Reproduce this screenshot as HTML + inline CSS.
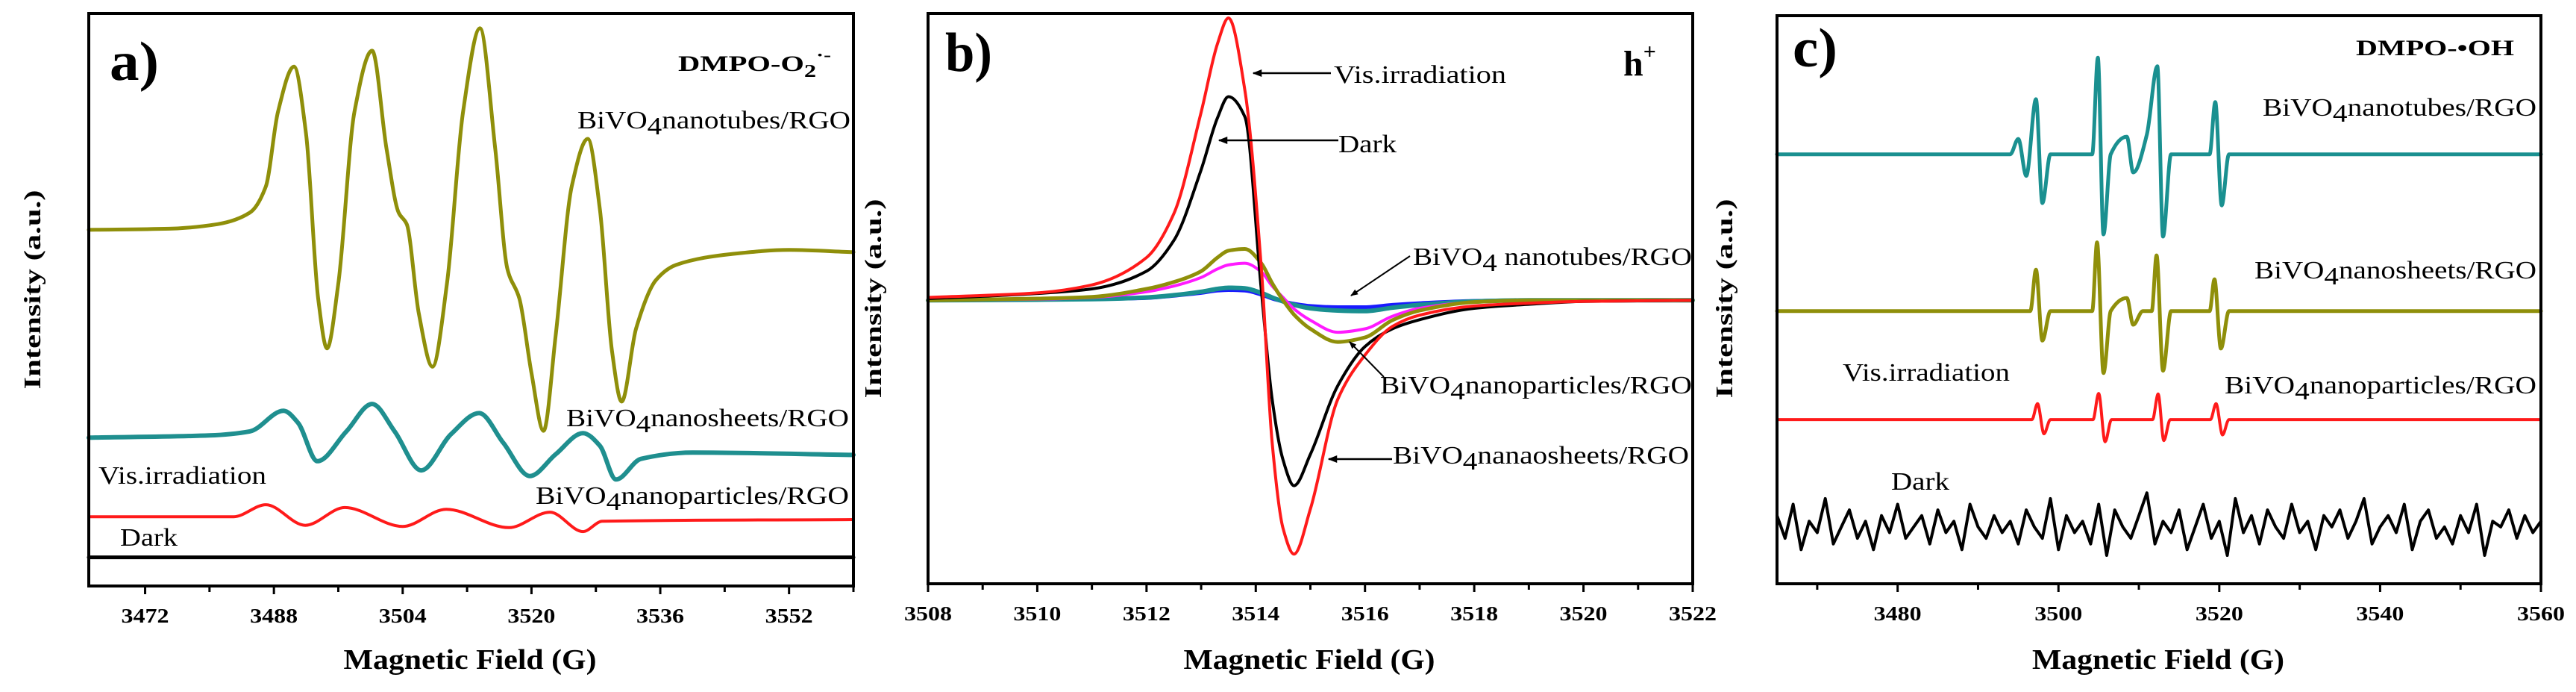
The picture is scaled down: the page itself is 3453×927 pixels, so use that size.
<!DOCTYPE html>
<html><head><meta charset="utf-8"><style>
html,body{margin:0;padding:0;background:#fff;}
svg{display:block;}
text{font-family:"Liberation Serif",serif;}
.b{font-weight:bold;}
</style></head>
<body>
<svg id="fig" width="3453" height="927" viewBox="0 0 3453 927" xmlns="http://www.w3.org/2000/svg">
<defs>
<marker id="ah" viewBox="0 0 10 10" refX="9" refY="5" markerWidth="5" markerHeight="5" orient="auto"><path d="M0,1 L10,5 L0,9 z" fill="#000"/></marker>
</defs>
<g id="pa"></g>
<g id="pb"></g>
<g id="pc"></g>

<!-- panel a text -->
<text class="b" x="147" y="107" font-size="74" textLength="66" lengthAdjust="spacingAndGlyphs">a)</text>
<text class="b" x="909" y="95" font-size="30" textLength="205" lengthAdjust="spacingAndGlyphs">DMPO-O<tspan dy="8" font-size="24">2</tspan><tspan dy="-22" font-size="22">·-</tspan></text>
<text x="774" y="172" font-size="34" textLength="366" lengthAdjust="spacingAndGlyphs">BiVO<tspan dy="8">4</tspan><tspan dy="-8">nanotubes/RGO</tspan></text>
<text x="759" y="571" font-size="34" textLength="379" lengthAdjust="spacingAndGlyphs">BiVO<tspan dy="8">4</tspan><tspan dy="-8">nanosheets/RGO</tspan></text>
<text x="132" y="648" font-size="34" textLength="225" lengthAdjust="spacingAndGlyphs">Vis.irradiation</text>
<text x="718" y="675" font-size="34" textLength="420" lengthAdjust="spacingAndGlyphs">BiVO<tspan dy="8">4</tspan><tspan dy="-8">nanoparticles/RGO</tspan></text>
<text x="161" y="731" font-size="34" textLength="77" lengthAdjust="spacingAndGlyphs">Dark</text>
<text class="b" x="630" y="896" font-size="38" text-anchor="middle" textLength="339" lengthAdjust="spacingAndGlyphs">Magnetic Field (G)</text>
<text class="b" transform="translate(54,388) rotate(-90)" font-size="32" text-anchor="middle" textLength="267" lengthAdjust="spacingAndGlyphs">Intensity (a.u.)</text>

<!-- panel b text -->
<text class="b" x="1267" y="95" font-size="74" textLength="63" lengthAdjust="spacingAndGlyphs">b)</text>
<text class="b" x="2176" y="101" font-size="48">h<tspan dy="-22" font-size="30">+</tspan></text>
<text x="1788" y="111" font-size="34" textLength="231" lengthAdjust="spacingAndGlyphs">Vis.irradiation</text>
<line x1="1784" y1="98" x2="1680" y2="98" stroke="#000" stroke-width="2.5" marker-end="url(#ah)"/>
<text x="1794" y="204" font-size="34" textLength="78" lengthAdjust="spacingAndGlyphs">Dark</text>
<line x1="1794" y1="188" x2="1634" y2="188" stroke="#000" stroke-width="2.5" marker-end="url(#ah)"/>
<text x="1894" y="355" font-size="34" textLength="374" lengthAdjust="spacingAndGlyphs">BiVO<tspan dy="8">4</tspan><tspan dy="-8"> nanotubes/RGO</tspan></text>
<line x1="1890" y1="343" x2="1811" y2="396" stroke="#000" stroke-width="2" marker-end="url(#ah)"/>
<text x="1850" y="527" font-size="34" textLength="418" lengthAdjust="spacingAndGlyphs">BiVO<tspan dy="8">4</tspan><tspan dy="-8">nanoparticles/RGO</tspan></text>
<line x1="1855" y1="505" x2="1809" y2="458" stroke="#000" stroke-width="2" marker-end="url(#ah)"/>
<text x="1867" y="621" font-size="34" textLength="397" lengthAdjust="spacingAndGlyphs">BiVO<tspan dy="8">4</tspan><tspan dy="-8">nanaosheets/RGO</tspan></text>
<line x1="1866" y1="615" x2="1781" y2="615" stroke="#000" stroke-width="2.5" marker-end="url(#ah)"/>
<text class="b" x="1755" y="896" font-size="38" text-anchor="middle" textLength="337" lengthAdjust="spacingAndGlyphs">Magnetic Field (G)</text>
<text class="b" transform="translate(1181,400) rotate(-90)" font-size="32" text-anchor="middle" textLength="267" lengthAdjust="spacingAndGlyphs">Intensity (a.u.)</text>

<!-- panel c text -->
<text class="b" x="2403" y="89" font-size="74" textLength="60" lengthAdjust="spacingAndGlyphs">c)</text>
<text class="b" x="3158" y="74" font-size="30" textLength="212" lengthAdjust="spacingAndGlyphs">DMPO-•OH</text>
<text x="3033" y="155" font-size="34" textLength="367" lengthAdjust="spacingAndGlyphs">BiVO<tspan dy="8">4</tspan><tspan dy="-8">nanotubes/RGO</tspan></text>
<text x="3022" y="373" font-size="34" textLength="378" lengthAdjust="spacingAndGlyphs">BiVO<tspan dy="8">4</tspan><tspan dy="-8">nanosheets/RGO</tspan></text>
<text x="2470" y="510" font-size="34" textLength="224" lengthAdjust="spacingAndGlyphs">Vis.irradiation</text>
<text x="2982" y="527" font-size="34" textLength="418" lengthAdjust="spacingAndGlyphs">BiVO<tspan dy="8">4</tspan><tspan dy="-8">nanoparticles/RGO</tspan></text>
<text x="2535" y="656" font-size="34" textLength="78" lengthAdjust="spacingAndGlyphs">Dark</text>
<text class="b" x="2893" y="896" font-size="38" text-anchor="middle" textLength="338" lengthAdjust="spacingAndGlyphs">Magnetic Field (G)</text>
<text class="b" transform="translate(2322,400) rotate(-90)" font-size="32" text-anchor="middle" textLength="267" lengthAdjust="spacingAndGlyphs">Intensity (a.u.)</text>
</svg>

<script>
// ---------- Panel a data (DMPO-O2·-) ----------
const aTubesG = [3465,3475,3481,3485,3487,3488.5,3490.5,3492,3493.5,3494.6,3496,3498,3500.2,3502,3503.5,3504.5,3506,3507.7,3509.5,3511.5,3513.6,3515.5,3517,3518.5,3520,3521.5,3523,3525,3527,3528.5,3530,3531.2,3533,3535.5,3538,3545,3552,3560];
const aTubesI = [62.2,62.4,63.2,65.2,69.8,82.8,90.7,78.9,50.2,41.5,52.8,82.8,93.5,76.3,65.2,63.2,47.6,38.3,52.8,82.8,97.4,76.3,55.4,50.2,37.2,27.1,43.7,69.8,78.1,65.8,41.1,32.2,45.0,53.5,56.1,58.0,58.7,58.3];
const aSheetsG = [3465,3480,3485,3489.2,3491,3493.4,3497,3500.2,3503,3506.3,3510,3513.5,3516.5,3519.8,3523,3526.4,3528.5,3530.5,3533.6,3540,3560];
const aSheetsI = [25.9,26.3,27.0,30.6,28.5,21.8,27,31.8,27,20.2,26.5,30.2,25,19.2,23,26.7,24.5,18.6,22.2,23.3,22.9];
const aVisG = [3465,3483,3487,3491.9,3496.8,3504,3509.4,3517.2,3522.3,3526.4,3528.8,3560];
const aVisI = [12.1,12.1,14.2,10.6,13.7,10.4,13.4,10.2,12.9,9.5,11.3,11.6];
const aDarkG = [3465,3560];
const aDarkI = [5.0,5.0];
const aTicks = [3472,3488,3504,3520,3536,3552];
const aMinor = [3480,3496,3512,3528,3544,3560];

// ---------- Panel b data (h+) ----------
const bField = [3508,3510,3511,3512,3512.5,3513,3513.3,3513.5,3513.8,3514.1,3514.3,3514.5,3514.7,3515,3515.5,3516,3516.5,3517,3518,3519,3520,3522];
const bVis = [0.5,1.3,2.7,7.5,15.2,33,45,49.5,36.9,5.9,-25,-40,-44.5,-36.6,-17.4,-9.6,-4.6,-2.6,-1,-0.5,-0.2,0];
const bDark = [0.3,1.2,2.0,5.1,10.5,22.9,32,35.7,32.2,2,-17.4,-28,-32.5,-27,-15,-8.1,-5,-3.4,-1.4,-0.7,-0.2,0];
const bOlive = [0,0.3,0.6,2.0,3.2,5.1,7.5,8.7,9.0,6.5,3.0,0,-2.5,-5,-7.3,-6.5,-3.5,-1.8,-0.3,0,0,0];
const bMagenta = [0,0.2,0.5,1.5,2.5,4,5.5,6.2,6.5,5,2.5,0.5,-1.5,-3.5,-5.6,-5,-2.8,-1.4,-0.3,0,0,0];
const bTeal = [0,0.1,0.2,0.5,0.9,1.5,2.0,2.2,2.1,1.3,0.5,-0.2,-0.8,-1.4,-1.8,-1.9,-1.3,-0.8,-0.2,0,0,0];
const bBlue = [0,0.1,0.2,0.4,0.8,1.3,1.7,1.8,1.7,1.0,0.3,-0.2,-0.6,-1.0,-1.2,-1.2,-0.8,-0.5,-0.1,0,0,0];
const bTicks = [3508,3510,3512,3514,3516,3518,3520,3522];
const bMinor = [3509,3511,3513,3515,3517,3519,3521];

// ---------- Panel c data (DMPO-·OH) ----------
const cTubesG = [3465,3494,3495,3496,3497.2,3498,3499,3504.2,3504.9,3505.6,3506.5,3508.5,3509.3,3511,3512.3,3513,3514,3518.8,3519.5,3520.3,3521.2,3560];
const cTubesI = [75.6,75.6,78.3,71.8,85.3,67.0,75.6,75.6,92.6,61.5,75.6,78.7,72.4,79.1,91.1,61.1,75.6,75.6,84.8,66.6,75.6,75.6];
const cSheetsG = [3465,3496.5,3497.2,3498,3499,3504.2,3504.8,3505.6,3506.5,3508.5,3509.3,3510.5,3511.6,3512.2,3513,3514,3518.8,3519.4,3520.2,3521.2,3560];
const cSheetsI = [48,48,55.3,42.8,48,48,60.1,37.1,48,50.3,45.6,48,48,57.8,37.5,48,48,53.6,41.4,48,48];
const cVisG = [3465,3496.7,3497.4,3498.2,3499,3504.3,3505,3505.8,3506.6,3511.7,3512.4,3513.1,3513.9,3518.9,3519.6,3520.4,3521.2,3560];
const cVisI = [28.9,28.9,31.7,26.4,28.9,28.9,33.5,25.0,28.9,28.9,33.4,25.2,28.9,28.9,31.7,26.2,28.9,28.9];
const cDarkStart = 3465;
const cDarkI = [12,8,14,6,11,9,15,7,10,13,8,11,6,12,9,14,8,10,12,7,13,9,11,6,14,10,8,12,9,11,7,13,10,8,15,6,12,9,11,7,14,5,13,10,8,12,16,7,11,9,13,6,10,14,8,11,5,15,9,12,7,13,10,8,14,9,11,6,12,10,13,8,11,15,7,10,12,9,14,6,11,13,8,10,7,12,9,14,5,11,10,13,8,12,9,11];
const cTicks = [3480,3500,3520,3540,3560];
const cMinor = [3470,3490,3510,3530,3550];

const NS = 'http://www.w3.org/2000/svg';
function mk(tag, attrs, parent){const e=document.createElementNS(NS,tag);for(const k in attrs)e.setAttribute(k,attrs[k]);parent.appendChild(e);return e;}
function lin(d0,d1,r0,r1){return v=>r0+(v-d0)*(r1-r0)/(d1-d0);}
// monotone cubic in x (no loops / overshoot)
function smoothPath(pts){
  const n=pts.length;
  if(n<3) return linePath(pts);
  const dx=[],s=[];
  for(let i=0;i<n-1;i++){dx.push(pts[i+1][0]-pts[i][0]);s.push((pts[i+1][1]-pts[i][1])/dx[i]);}
  const m=new Array(n);
  m[0]=s[0];m[n-1]=s[n-2];
  for(let i=1;i<n-1;i++){
    if(s[i-1]*s[i]<=0) m[i]=0;
    else{const w1=2*dx[i]+dx[i-1],w2=dx[i]+2*dx[i-1];m[i]=(w1+w2)/(w1/s[i-1]+w2/s[i]);}
  }
  let d='M'+pts[0][0].toFixed(1)+','+pts[0][1].toFixed(1);
  for(let i=0;i<n-1;i++){
    const h=dx[i]/3;
    d+=' C'+(pts[i][0]+h).toFixed(1)+','+(pts[i][1]+m[i]*h).toFixed(1)+' '+(pts[i+1][0]-h).toFixed(1)+','+(pts[i+1][1]-m[i+1]*h).toFixed(1)+' '+pts[i+1][0].toFixed(1)+','+pts[i+1][1].toFixed(1);
  }
  return d;
}
function linePath(pts){return 'M'+pts.map(p=>p[0].toFixed(1)+','+p[1].toFixed(1)).join(' L');}

function frame(g,x0,x1,y0,y1,xs,ticks,minor,name){
  const r=mk('rect',{x:x0,y:y0,width:x1-x0,height:y1-y0,fill:'none',stroke:'#000','stroke-width':4},g);
  
  
  ticks.forEach(t=>{
    const x=xs(t);
    const l=mk('line',{x1:x,x2:x,y1:y1,y2:y1+11,stroke:'#000','stroke-width':3},g);
    
    
    const tx=mk('text',{x:x,y:y1+49,'font-size':27,'font-weight':'bold','text-anchor':'middle',textLength:64,lengthAdjust:'spacingAndGlyphs'},g);
    tx.textContent=t;
    
    
  });
  minor.forEach(t=>{
    const x=xs(t);
    const l=mk('line',{x1:x,x2:x,y1:y1,y2:y1+8,stroke:'#000','stroke-width':3},g);
    
    
  });
}
function series(g,xs,ys,G,I,color,w,name,smooth){
  const pts=G.map((v,i)=>[xs(v),ys(I[i])]);
  const p=mk('path',{d:smooth?smoothPath(pts):linePath(pts),fill:'none',stroke:color,'stroke-width':w,'stroke-linejoin':'round','stroke-linecap':'round'},g);
  
  
}

// Panel a
(function(){
  const g=document.getElementById('pa');
  const xs=lin(3465,3560,119,1144), ys=lin(0,100,785,18);
  series(g,xs,ys,aDarkG,aDarkI,'#000',5,'series-a-dark',true);
  series(g,xs,ys,aVisG,aVisI,'#ff1a1a',4,'series-a-vis-nanoparticles',true);
  series(g,xs,ys,aSheetsG,aSheetsI,'#1f8f8f',6,'series-a-nanosheets',true);
  series(g,xs,ys,aTubesG,aTubesI,'#8f8f0a',5,'series-a-nanotubes',true);
  frame(g,119,1144,18,785,xs,aTicks,aMinor,'panel-a');
})();
// Panel b
(function(){
  const g=document.getElementById('pb');
  const xs=lin(3508,3522,1244,2269), ys=lin(-49.7,50.3,782,18);
  series(g,xs,ys,bField,bBlue,'#1a1aff',5,'series-b-blue',true);
  series(g,xs,ys,bField,bTeal,'#1a9090',6,'series-b-nanotubes',true);
  series(g,xs,ys,bField,bMagenta,'#ff1aff',4,'series-b-magenta',true);
  series(g,xs,ys,bField,bOlive,'#8f8f0a',5,'series-b-nanoparticles',true);
  series(g,xs,ys,bField,bDark,'#000',4,'series-b-dark',true);
  series(g,xs,ys,bField,bVis,'#ff1a1a',4,'series-b-vis',true);
  frame(g,1244,2269,18,782,xs,bTicks,bMinor,'panel-b');
})();
// Panel c
(function(){
  const g=document.getElementById('pc');
  const xs=lin(3465,3560,2382,3406), ys=lin(0,100,782,21);
  const darkG=cDarkI.map((v,i)=>cDarkStart+i);
  series(g,xs,ys,darkG,cDarkI,'#000',4,'series-c-dark',false);
  series(g,xs,ys,cVisG,cVisI,'#ff1a1a',4,'series-c-vis-nanoparticles',true);
  series(g,xs,ys,cSheetsG,cSheetsI,'#8f8f0a',5,'series-c-nanosheets',true);
  series(g,xs,ys,cTubesG,cTubesI,'#1a9090',5,'series-c-nanotubes',true);
  frame(g,2382,3406,21,782,xs,cTicks,cMinor,'panel-c');
})();
</script>
</body></html>
